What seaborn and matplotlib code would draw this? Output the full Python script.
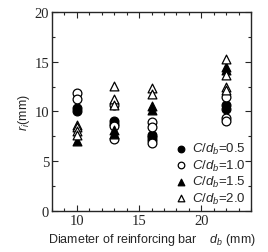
import matplotlib
matplotlib.use("Agg")
import matplotlib.pyplot as plt
import seaborn as sns
import pandas as pd
from matplotlib.ticker import MultipleLocator

# --- DATA ---
db_05 = [10, 10, 13, 13, 16, 16, 16, 22, 22]
ri_05 = [10.3, 10.0, 9.0, 8.7, 7.6, 7.4, 7.1, 10.6, 10.2]

db_10 = [10, 10, 13, 13, 13, 16, 16, 16, 22, 22, 22]
ri_10 = [11.84, 11.24, 10.6, 8.5, 7.2, 8.9, 8.4, 6.8, 11.5, 9.3, 9.0]

db_15 = [10, 13, 13, 16, 16, 22, 22]
ri_15 = [7.0, 8.1, 7.7, 10.5, 10.1, 14.5, 14.2]

db_20 = [10, 10, 10, 10, 13, 13, 13, 16, 16, 22, 22, 22, 22]
ri_20 = [8.6, 8.4, 8.0, 7.6, 12.6, 11.3, 10.6, 12.4, 11.8, 15.25, 13.7, 12.5, 12.2]

groups = ['0.5', '1.0', '1.5', '2.0']
markers = {'0.5': 'o', '1.0': 'o', '1.5': '^', '2.0': '^'}
filled = {'0.5': True, '1.0': False, '1.5': True, '2.0': False}

df = pd.concat([
    pd.DataFrame({'db': db_05, 'ri': ri_05, 'ratio': '0.5'}),
    pd.DataFrame({'db': db_10, 'ri': ri_10, 'ratio': '1.0'}),
    pd.DataFrame({'db': db_15, 'ri': ri_15, 'ratio': '1.5'}),
    pd.DataFrame({'db': db_20, 'ri': ri_20, 'ratio': '2.0'}),
])

sns.set_style('ticks')
plt.rcParams['font.family'] = ['Liberation Sans', 'DejaVu Sans']
plt.rcParams['mathtext.fontset'] = 'custom'
plt.rcParams['mathtext.it'] = 'Liberation Sans:italic'
plt.rcParams['mathtext.rm'] = 'Liberation Sans'

fig = plt.figure(figsize=(2.68, 2.53), dpi=100)
ax = fig.add_axes([0.194, 0.162, 0.743, 0.787])

for g in groups:
    sub = df[df['ratio'] == g]
    sns.scatterplot(data=sub, x='db', y='ri', ax=ax, marker=markers[g], s=40,
                    facecolor='black' if filled[g] else 'white',
                    edgecolor='black', linewidth=0.9, zorder=3,
                    label=r'$C/d_b$=' + g)

ax.set_xlim(8, 24)
ax.set_ylim(0, 20)
ax.xaxis.set_major_locator(MultipleLocator(5))
ax.xaxis.set_minor_locator(MultipleLocator(1))
ax.yaxis.set_major_locator(MultipleLocator(5))
ax.yaxis.set_minor_locator(MultipleLocator(2.5))
ax.tick_params(which='both', direction='in', top=True, right=True, width=0.8)
ax.tick_params(which='major', length=4, labelsize=10.5, pad=2)
ax.tick_params(which='minor', length=2)
for lab in ax.get_xticklabels() + ax.get_yticklabels():
    lab.set_family('Liberation Serif')
for sp in ax.spines.values():
    sp.set_linewidth(1.0)

ax.set_xlabel(r'Diameter of reinforcing bar    $d_b$ (mm)', fontsize=9, labelpad=3)
ax.set_ylabel(r'$r_i$(mm)', fontsize=9, labelpad=2)

ax.legend(loc='lower right', frameon=False, fontsize=9.5, handletextpad=0.2,
          labelspacing=0.1, borderaxespad=0.2, handlelength=1.2,
          borderpad=0.2, markerscale=0.75)

fig.savefig('out.png', dpi=100)
